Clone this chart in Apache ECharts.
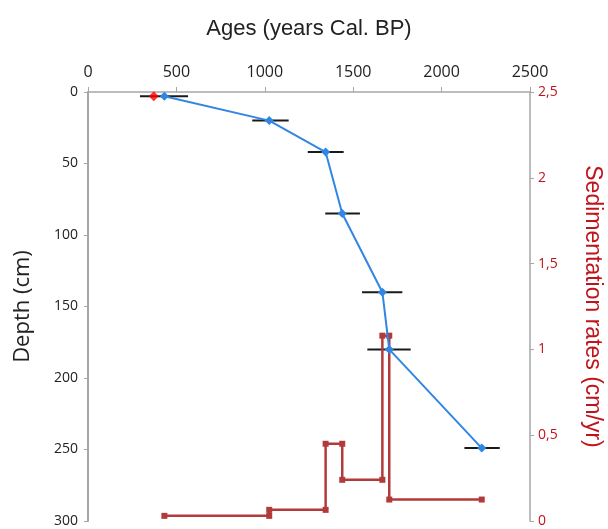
<!DOCTYPE html>
<html><head><meta charset="utf-8">
<script src="https://cdn.jsdelivr.net/npm/echarts@6/dist/echarts.min.js"></script>
<style>html,body{margin:0;padding:0;background:#fff;overflow:hidden}#c{width:608px;height:529px}</style>
</head><body><div id="c"></div>
<script>
// Data
const ages = [432, 1025, 1344, 1438, 1665, 1704, 2227];
const depths = [3, 20, 42, 85, 140, 180, 249];
const ageLow = [294, 929, 1243, 1342, 1550, 1580, 2129];
const ageHigh = [566, 1135, 1446, 1538, 1778, 1825, 2329];
const rejectedAge = [372];
const rejectedDepth = [3];
const rates = [0.03, 0.065, 0.45, 0.24, 1.08, 0.125]; // between consecutive ages
const xTicks = [0, 500, 1000, 1500, 2000, 2500];
const depthTicks = [0, 50, 100, 150, 200, 250, 300];
const rateTicks = [0, 0.5, 1, 1.5, 2, 2.5];

const ageDepth = ages.map((a, i) => [a, depths[i]]);
const errData = ages.map((a, i) => [ageLow[i], ageHigh[i], depths[i]]);
const stepData = [];
rates.forEach((r, i) => { stepData.push([ages[i], r]); stepData.push([ages[i + 1], r]); });

const chart = echarts.init(document.getElementById('c'), null, {renderer: 'canvas'});
const tickFont = 'Open Sans';
const red = '#c0141c';
chart.setOption({
  animation: false,
  grid: {left: 88, right: 78, top: 92, bottom: 8, containLabel: false, outerBoundsMode: 'none'},
  xAxis: {
    type: 'value', position: 'top', min: xTicks[0], max: xTicks[xTicks.length - 1], interval: 500,
    name: 'Ages (years Cal. BP)', nameLocation: 'middle', nameGap: 52,
    nameTextStyle: {fontFamily: 'Liberation Sans', fontSize: 22, color: '#222'},
    axisLine: {show: true, onZero: false, lineStyle: {color: '#a6a6a6', width: 1.5}},
    axisTick: {show: true, length: 5, lineStyle: {color: '#a6a6a6'}},
    axisLabel: {fontFamily: tickFont, fontSize: 16, color: '#222', margin: 12, formatter: v => String(v)},
    splitLine: {show: false}
  },
  yAxis: [{
    type: 'value', inverse: true, min: 0, max: 300, interval: 50, position: 'left',
    name: 'Depth (cm)', nameLocation: 'middle', nameGap: 54, nameRotate: 90,
    nameTextStyle: {fontFamily: tickFont, fontSize: 22, color: '#222'},
    axisLine: {show: true, lineStyle: {color: '#a6a6a6', width: 2}},
    axisTick: {show: true, length: 4, lineStyle: {color: '#a6a6a6'}},
    axisLabel: {fontFamily: tickFont, fontSize: 14, color: '#222', margin: 10, formatter: v => String(v)},
    splitLine: {show: false}
  }, {
    type: 'value', min: 0, max: 2.5, interval: 0.5, position: 'right',
    name: 'Sedimentation rates (cm/yr)', nameLocation: 'middle', nameGap: 51, nameRotate: -90,
    nameTextStyle: {fontFamily: 'Liberation Sans', fontSize: 23, color: red},
    axisLine: {show: true, lineStyle: {color: '#a6a6a6', width: 1.5}},
    axisTick: {show: true, length: 4, lineStyle: {color: '#a6a6a6'}},
    axisLabel: {fontFamily: tickFont, fontSize: 14, color: red, margin: 8,
      formatter: v => String(v).replace('.', ',')},
    splitLine: {show: false}
  }],
  series: [{
    type: 'custom', yAxisIndex: 0, data: errData, z: 1,
    renderItem: (params, api) => {
      const p1 = api.coord([api.value(0), api.value(2)]);
      const p2 = api.coord([api.value(1), api.value(2)]);
      return {type: 'line', shape: {x1: p1[0], y1: p1[1], x2: p2[0], y2: p2[1]},
        style: {stroke: '#1a1a1a', lineWidth: 2}};
    }
  }, {
    type: 'line', yAxisIndex: 1, data: stepData, z: 2,
    symbol: 'rect', symbolSize: 6,
    lineStyle: {color: '#b23a3a', width: 2.5},
    itemStyle: {color: '#b23a3a'}
  }, {
    type: 'line', yAxisIndex: 0, data: ageDepth, z: 3,
    symbol: 'diamond', symbolSize: 9,
    lineStyle: {color: '#2f86e4', width: 2},
    itemStyle: {color: '#2f86e4'}
  }, {
    type: 'scatter', yAxisIndex: 0, data: rejectedAge.map((a, i) => [a, rejectedDepth[i]]), z: 4,
    symbol: 'diamond', symbolSize: 10, itemStyle: {color: '#ff0000'}
  }]
});
</script></body></html>
